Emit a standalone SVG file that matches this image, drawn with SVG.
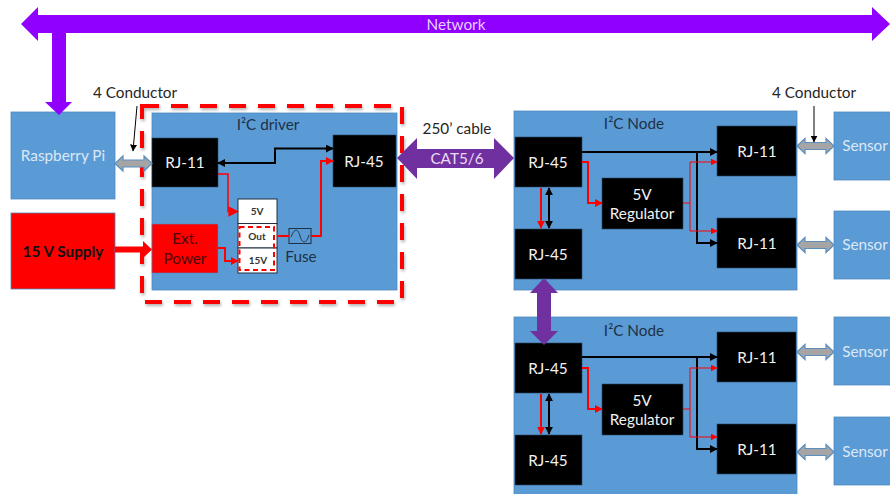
<svg xmlns="http://www.w3.org/2000/svg" width="890" height="494" viewBox="0 0 890 494">
<style>
text{font-family:Lato,"Liberation Sans",sans-serif;font-size:15.300px;text-anchor:middle}
.blue{fill:#5b9bd5;stroke:#4f88bd;stroke-width:.8}
.blk{fill:#000;stroke:#2a4a66;stroke-width:.6}
.w{fill:#f2f2f2}
.lt{fill:#dbe8f5}
.d{fill:#1d3147}
.k{fill:#262626}
.gray{fill:#a5a5a5;stroke:#5b8fc0;stroke-width:1.2}
.bline{fill:none;stroke:#000;stroke-width:2}
.rline{fill:none;stroke:#f00;stroke-width:2}
.rthin{fill:none;stroke:#f00;stroke-width:1}
.thin{fill:none;stroke:#000;stroke-width:1}
.cell{fill:#fff;stroke:#1f2f3f;stroke-width:1}
.small{font-size:10px;font-weight:700;fill:#333}
</style>
<defs>
<marker id="kh" markerWidth="4" markerHeight="4" refX="3.600" refY="2" orient="auto-start-reverse" markerUnits="strokeWidth"><path d="M0,0L4,2L0,4z" fill="#000"/></marker>
<marker id="rh" markerWidth="4" markerHeight="4" refX="3.600" refY="2" orient="auto" markerUnits="strokeWidth"><path d="M0,0L4,2L0,4z" fill="#f00"/></marker>
<marker id="rt" markerWidth="7" markerHeight="7" refX="6.400" refY="3.500" orient="auto" markerUnits="strokeWidth"><path d="M0,0L7,3.500L0,7z" fill="#f00"/></marker>
<marker id="kt" markerWidth="7" markerHeight="7" refX="6.400" refY="3.500" orient="auto" markerUnits="strokeWidth"><path d="M0,0L7,3.500L0,7z" fill="#000"/></marker>
<filter id="sh" x="-5%" y="-5%" width="110%" height="110%"><feDropShadow dx="1" dy="2" stdDeviation="1.5" flood-color="#000" flood-opacity=".3"/></filter>
</defs>

<g id="raspberry-pi"><rect class="blue" x="11" y="112" width="104" height="87"/><text class="lt" x="63" y="161">Raspberry Pi</text></g>
<g id="supply"><rect x="11" y="213" width="104" height="76" fill="#f00" stroke="#4f88bd" stroke-width=".8"/><text x="63" y="257" font-weight="700" fill="#111">15 V Supply</text></g>

<g id="driver">
<rect class="blue" x="152" y="113" width="245" height="177"/>
<rect x="142" y="106" width="260" height="196" fill="none" stroke="#f00" stroke-width="4" stroke-dasharray="17 12" filter="url(#sh)"/>
<text class="d" x="268" y="130">I²C driver</text>
</g>
<g id="driver-rj11"><rect class="blk" x="152" y="138" width="66" height="49"/><text class="w" x="185" y="168">RJ-11</text></g>
<g id="driver-rj45"><rect class="blk" x="333" y="135" width="63" height="52"/><text class="w" x="364" y="167">RJ-45</text></g>
<g id="ext-power"><rect x="152" y="224" width="66" height="49" fill="#f00" stroke="#4f88bd" stroke-width=".6"/><text x="185" y="244" fill="#4a0606">Ext.</text><text x="185" y="264" fill="#4a0606">Power</text></g>
<g id="switch">
<rect class="cell" x="238" y="199" width="39" height="24.500"/><rect class="cell" x="238" y="223.500" width="39" height="24.500"/><rect class="cell" x="238" y="248" width="39" height="25"/>
<rect x="239.500" y="227" width="34.500" height="43" fill="none" stroke="#f00" stroke-width="2" stroke-dasharray="5 3.500"/>
<text class="small" x="257" y="215">5V</text><text class="small" x="257" y="240">Out</text><text class="small" x="258" y="264">15V</text>
</g>
<g id="fuse"><rect x="289" y="228.500" width="22" height="15" fill="#5b9bd5" stroke="#1d3147" stroke-width="1"/><path d="M291,237C295,227 298,229 300,236S306,245 309,235" fill="none" stroke="#1d3147" stroke-width="1"/><text class="d" x="301" y="262">Fuse</text></g>

<g id="node-1">
<rect class="blue" x="514" y="111" width="283" height="179"/><text class="d" x="634" y="129">I²C Node</text>
</g>
<g id="node-1-rj45a"><rect class="blk" x="515" y="137" width="67" height="50"/><text class="w" x="548" y="168">RJ-45</text></g>
<g id="node-1-rj45b"><rect class="blk" x="515" y="229" width="67" height="50"/><text class="w" x="548" y="260">RJ-45</text></g>
<g id="node-1-reg"><rect class="blk" x="602" y="178" width="81" height="51"/><text class="w" x="642" y="200">5V</text><text class="w" x="642" y="219">Regulator</text></g>
<g id="node-1-rj11a"><rect class="blk" x="717" y="126" width="79" height="50"/><text class="w" x="757" y="157">RJ-11</text></g>
<g id="node-1-rj11b"><rect class="blk" x="717" y="218" width="79" height="50"/><text class="w" x="757" y="249">RJ-11</text></g>

<g id="node-2">
<rect class="blue" x="514" y="317" width="283" height="178"/><text class="d" x="634" y="336">I²C Node</text>
</g>
<g id="node-2-rj45a"><rect class="blk" x="515" y="343" width="67" height="50"/><text class="w" x="548" y="374">RJ-45</text></g>
<g id="node-2-rj45b"><rect class="blk" x="515" y="435" width="67" height="50"/><text class="w" x="548" y="466">RJ-45</text></g>
<g id="node-2-reg"><rect class="blk" x="602" y="384" width="81" height="51"/><text class="w" x="642" y="406">5V</text><text class="w" x="642" y="425">Regulator</text></g>
<g id="node-2-rj11a"><rect class="blk" x="717" y="332" width="79" height="50"/><text class="w" x="757" y="363">RJ-11</text></g>
<g id="node-2-rj11b"><rect class="blk" x="717" y="424" width="79" height="50"/><text class="w" x="757" y="455">RJ-11</text></g>

<g id="sensor-1"><rect class="blue" x="834" y="112" width="57" height="68"/><text class="lt" x="865" y="151">Sensor</text></g>
<g id="sensor-2"><rect class="blue" x="834" y="211" width="57" height="68"/><text class="lt" x="865" y="250">Sensor</text></g>
<g id="sensor-3"><rect class="blue" x="834" y="317" width="57" height="68"/><text class="lt" x="865" y="357">Sensor</text></g>
<g id="sensor-4"><rect class="blue" x="834" y="417" width="57" height="68"/><text class="lt" x="865" y="457">Sensor</text></g>

<g id="connectors">
<polygon fill="#8f00ff" points="21,24 38,7 38,15 872,15 872,7 890,24 872,41 872,33 66,33 66,102 72,102 59,115 45,102 52,102 52,33 38,33 38,41"/>
<polygon fill="#7030a0" points="397,158 417,138 417,149 494,149 494,138 514,158 494,179 494,168 417,168 417,179"/>
<polygon fill="#7030a0" points="544,278 558,293 551,293 551,331 558,331 544,345 530,331 537,331 537,293 530,293"/>
<polygon class="gray" points="115,163.500 123,156 123,160 144,160 144,156 152,163.500 144,171 144,167 123,167 123,171"/>
<polygon class="gray" points="797,146 805,138.500 805,142.500 826,142.500 826,138.500 834,146 826,153.500 826,149.500 805,149.500 805,153.500"/>
<polygon class="gray" points="797,245 805,237.500 805,241.500 826,241.500 826,237.500 834,245 826,252.500 826,248.500 805,248.500 805,252.500"/>
<polygon class="gray" points="797,352 805,344.500 805,348.500 826,348.500 826,344.500 834,352 826,359.500 826,355.500 805,355.500 805,359.500"/>
<polygon class="gray" points="797,452 805,444.500 805,448.500 826,448.500 826,444.500 834,452 826,459.500 826,455.500 805,455.500 805,459.500"/>
<path d="M115,249.500H144" fill="none" stroke="#f00" stroke-width="6"/><polygon fill="#f00" points="143,241 152,249.500 143,258"/>
<path class="thin" d="M137,106L133,151" marker-end="url(#kt)"/>
<path class="thin" d="M814,106V142" marker-end="url(#kt)"/>

<path class="bline" d="M218,163H275V148.500H333" marker-start="url(#kh)" marker-end="url(#kh)"/>
<path class="rthin" style="stroke-width:1.500" d="M218,174H228V211.500H238" marker-end="url(#rt)"/>
<path class="rline" d="M218,248H225V261H238" marker-end="url(#rh)"/>
<path class="rline" d="M277,236H289"/>
<path class="rline" d="M311,236H321V161H333" marker-end="url(#rh)"/>

<path class="bline" d="M582,152H717" marker-end="url(#kh)"/>
<path class="bline" d="M697,152V243H717" marker-end="url(#kh)"/>
<path class="rline" d="M582,162H588V203H602" marker-end="url(#rh)"/>
<path class="rthin" d="M683,203H690V162H717" marker-end="url(#rt)"/>
<path class="rthin" d="M690,203V231H717" marker-end="url(#rt)"/>
<path class="rline" d="M541,188V228" marker-end="url(#rh)"/>
<path class="bline" d="M549,188V228" marker-start="url(#kh)" marker-end="url(#kh)"/>

<path class="bline" d="M582,357H717" marker-end="url(#kh)"/>
<path class="bline" d="M697,357V449H717" marker-end="url(#kh)"/>
<path class="rline" d="M582,368H588V409H602" marker-end="url(#rh)"/>
<path class="rthin" d="M683,409H690V368H717" marker-end="url(#rt)"/>
<path class="rthin" d="M690,409V437H717" marker-end="url(#rt)"/>
<path class="rline" d="M541,394V434" marker-end="url(#rh)"/>
<path class="bline" d="M549,394V434" marker-start="url(#kh)" marker-end="url(#kh)"/>
</g>

<g id="labels">
<text x="456" y="30" fill="#e6d0ff">Network</text>
<text class="k" x="135" y="98">4 Conductor</text>
<text class="k" x="814" y="98">4 Conductor</text>
<text class="k" x="457" y="134">250’ cable</text>
<text x="457" y="164" fill="#ead9f5">CAT5/6</text>
</g>
</svg>
